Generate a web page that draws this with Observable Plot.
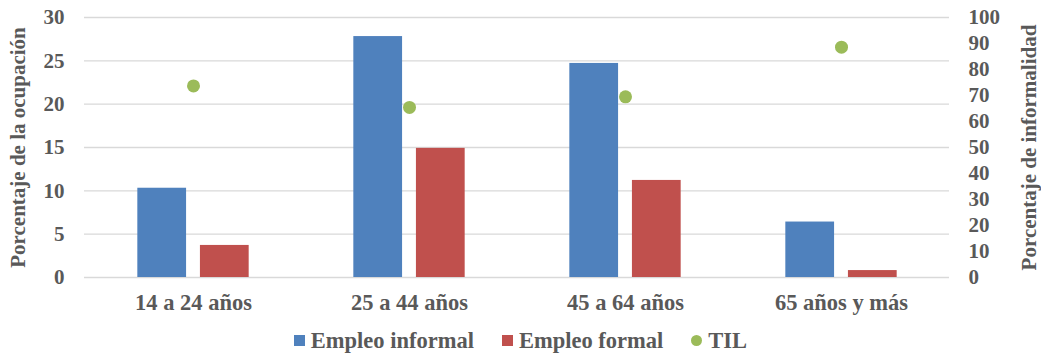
<!DOCTYPE html>
<html>
<head>
<meta charset="utf-8">
<script src="https://cdn.jsdelivr.net/npm/d3@7"></script>
<script src="https://cdn.jsdelivr.net/npm/@observablehq/plot@0.6"></script>
<style>
  html, body { margin: 0; padding: 0; background: #fff; }
  #chart { width: 1041px; }
</style>
</head>
<body>
<div id="chart"></div>
<script>
const categories = ["14 a 24 años", "25 a 44 años", "45 a 64 años", "65 años y más"];
const empleoInformal = [10.3, 27.8, 24.7, 6.4];
const empleoFormal = [3.7, 14.9, 11.2, 0.8];
const til = [73.7, 65.4, 69.5, 88.6];
const leftTicks = [0, 5, 10, 15, 20, 25, 30];
const rightTickLabels = [0, 10, 20, 30, 40, 50, 60, 70, 80, 90, 100];

const colors = { informal: "#4F81BD", formal: "#C0504D", til: "#9BBB59" };
const textColor = "#595959";
const serif = "'Liberation Serif', 'Times New Roman', serif";

const rows = categories.map((c, i) => ({ cat: c, informal: empleoInformal[i], formal: empleoFormal[i], til: til[i] }));

const bw = 49;
const band = (949 - 84) / categories.length;
const inset = (band - bw) / 2;

const chart = Plot.plot({
  width: 1041,
  height: 320,
  marginLeft: 84,
  marginRight: 92,
  marginTop: 17,
  marginBottom: 43,
  style: { fontFamily: serif, fontWeight: "bold", color: textColor, background: "#fff" },
  x: { domain: categories, padding: 0 },
  y: { domain: [0, 30] },
  marks: [
    Plot.ruleY(leftTicks, { stroke: "#D9D9D9", strokeWidth: 1.3 }),
    Plot.barY(rows, { x: "cat", y: "informal", fill: colors.informal, insetLeft: inset, insetRight: inset, dx: -31.3 }),
    Plot.barY(rows, { x: "cat", y: "formal", fill: colors.formal, insetLeft: inset, insetRight: inset, dx: 31.3 }),
    Plot.dot(rows, { x: "cat", y: d => d.til * 30 / 100, r: 6.5, fill: colors.til }),
    Plot.axisX({ tickSize: 0, tickPadding: 17, fontSize: 22.5, label: null, fill: textColor }),
    Plot.axisY({ anchor: "left", ticks: leftTicks, tickSize: 0, tickPadding: 20, fontSize: 21, fill: textColor,
      label: "Porcentaje de la ocupación", labelAnchor: "center", labelArrow: "none", labelOffset: 74 }),
    Plot.axisY({ anchor: "right", ticks: rightTickLabels.map(v => v * 30 / 100), tickFormat: d => String(Math.round(d * 100 / 30)),
      tickSize: 0, tickPadding: 19, fontSize: 21, fill: textColor,
      label: "Porcentaje de informalidad", labelAnchor: "center", labelArrow: "none", labelOffset: 86 })
  ]
});
document.getElementById("chart").appendChild(chart);

const legend = document.createElement("div");
legend.style.cssText = `display:flex;justify-content:center;align-items:center;gap:28px;font-family:${serif};font-weight:bold;font-size:22.5px;color:${textColor};height:38px;padding-top:3px;box-sizing:border-box;`;
const items = [
  ["Empleo informal", colors.informal, "0"],
  ["Empleo formal", colors.formal, "0"],
  ["TIL", colors.til, "50%"]
];
for (const [label, color, radius] of items) {
  const item = document.createElement("span");
  item.style.cssText = "display:flex;align-items:center;gap:6px;";
  const sw = document.createElement("span");
  sw.style.cssText = `width:11px;height:11px;display:inline-block;background:${color};border-radius:${radius};`;
  const t = document.createElement("span");
  t.textContent = label;
  item.appendChild(sw);
  item.appendChild(t);
  legend.appendChild(item);
}
document.getElementById("chart").appendChild(legend);
</script>
</body>
</html>
